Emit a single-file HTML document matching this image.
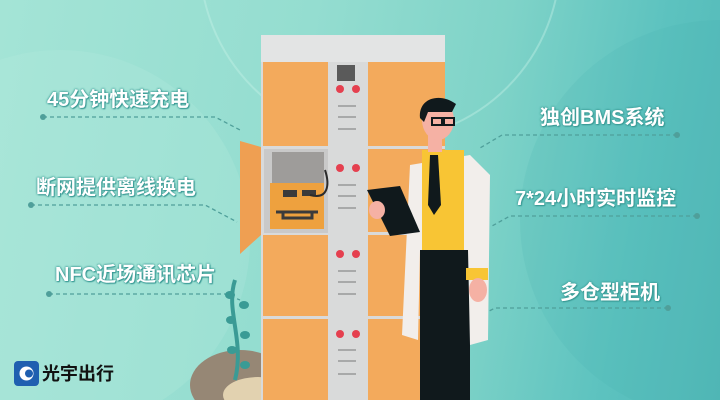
<!DOCTYPE html><html><head><meta charset="utf-8"><style>
html,body{margin:0;width:720px;height:400px;overflow:hidden}
#c{position:relative;width:720px;height:400px;overflow:hidden;background:linear-gradient(100deg,#a4e4d6 0%,#94ddd0 40%,#7fd3c8 65%,#5cc2bf 85%,#52b8b7 100%);font-family:"Liberation Sans","Noto Sans CJK SC",sans-serif}
.t{position:absolute;color:#fff;font-size:20px;line-height:24px;font-weight:bold;white-space:nowrap;text-shadow:0 0 2px #3a9a95,0 0 2px #3a9a95,1px 1px 1px #3a9a95}
</style></head><body><div id="c">
<svg width="720" height="400" style="position:absolute;left:0;top:0">
<circle cx="60" cy="240" r="190" fill="#b6ece0" opacity=".25"/>
<circle cx="380" cy="-40" r="180" fill="none" stroke="#c8f2e8" stroke-width="2" opacity=".4"/>
<circle cx="720" cy="220" r="200" fill="#45aeb0" opacity=".15"/>
<g stroke="#4f9f9a" stroke-width="1.3" stroke-dasharray="4 3" fill="none">
<path d="M43 117H215L242 131"/><path d="M31 205H205L237 222"/><path d="M49 294H225L240 300"/>
<path d="M677 135H502L480 148"/><path d="M697 216H510L492 226"/><path d="M668 308H495L468 322"/>
</g>
<g fill="#4f9f9a"><circle cx="43" cy="117" r="3"/><circle cx="31" cy="205" r="3"/><circle cx="49" cy="294" r="3"/><circle cx="677" cy="135" r="3"/><circle cx="697" cy="216" r="3"/><circle cx="668" cy="308" r="3"/></g>
<ellipse cx="240" cy="385" rx="50" ry="35" fill="#968775"/>
<ellipse cx="258" cy="395" rx="35" ry="18" fill="#e2d2b0"/>
<path d="M235 280C225 310 245 340 235 380" stroke="#3a9b95" stroke-width="4" fill="none"/>
<g fill="#3a9b95"><ellipse cx="230" cy="295" rx="5" ry="4"/><ellipse cx="244" cy="305" rx="5" ry="4"/><ellipse cx="231" cy="320" rx="5" ry="4"/><ellipse cx="245" cy="335" rx="5" ry="4"/><ellipse cx="232" cy="350" rx="5" ry="4"/><ellipse cx="245" cy="365" rx="5" ry="4"/></g>
<rect x="261" y="35" width="184" height="365" fill="#d9dada"/>
<rect x="261" y="35" width="184" height="27" fill="#e3e4e4"/>
<g fill="#f3aa5c"><rect x="263" y="62" width="65" height="84"/><rect x="368" y="62" width="77" height="84"/><rect x="368" y="149" width="77" height="83"/><rect x="263" y="235" width="65" height="81"/><rect x="368" y="235" width="77" height="81"/><rect x="263" y="319" width="65" height="81"/><rect x="368" y="319" width="77" height="81"/></g>
<rect x="264" y="149" width="64" height="84" fill="#c9c9c9"/><rect x="272" y="152" width="52" height="38" fill="#9e9c9a"/>
<polygon points="240,141 261,147 261,235 240,254" fill="#ef9f52"/>
<rect x="270" y="183" width="54" height="46" fill="#eea13e"/>
<rect x="283" y="190" width="14" height="7" fill="#3b3b3b"/><rect x="302" y="190" width="14" height="6" fill="#3b3b3b"/>
<path d="M276 212H318M283 212V218H312V212" stroke="#3b3b3b" stroke-width="3" fill="none"/>
<path d="M325 170C330 185 328 200 310 195" stroke="#2b2b2b" stroke-width="2" fill="none"/>
<rect x="337" y="65" width="18" height="16" fill="#5a5a5a"/>
<g fill="#e5404f"><circle cx="340" cy="89" r="4"/><circle cx="356" cy="89" r="4"/><circle cx="340" cy="168" r="4"/><circle cx="356" cy="168" r="4"/><circle cx="340" cy="254" r="4"/><circle cx="356" cy="254" r="4"/><circle cx="340" cy="334" r="4"/><circle cx="356" cy="334" r="4"/></g>
<g stroke="#8c8c8c" stroke-width="1.2"><path d="M338 106h18M338 117h18M338 129h18M338 185h18M338 196h18M338 208h18M338 271h18M338 282h18M338 294h18M338 350h18M338 361h18M338 374h18"/></g>
<rect x="420" y="250" width="50" height="150" fill="#10191c"/>
<path d="M410 165L470 155L490 175L488 340L470 345L468 250L420 250L418 340L402 335Z" fill="#f2eeeb"/>
<rect x="422" y="150" width="42" height="100" fill="#f8c534"/>
<polygon points="430,155 438,155 441,205 434,215 428,205" fill="#10191c"/>
<rect x="466" y="268" width="22" height="12" fill="#f8c534"/>
<ellipse cx="478" cy="290" rx="9" ry="12" fill="#f5b1a4"/>
<rect x="428" y="130" width="14" height="22" fill="#f5b1a4"/>
<ellipse cx="438" cy="120" rx="16" ry="20" fill="#f5b1a4"/>
<path d="M420 118C418 98 440 92 456 104L452 112L428 112L424 122Z" fill="#10191c"/>
<g stroke="#10191c" stroke-width="2" fill="none"><rect x="432" y="118" width="10" height="7"/><rect x="444" y="118" width="10" height="7"/></g>
<polygon points="367,190 400,186 420,232 390,236" fill="#10191c"/>
<ellipse cx="377" cy="210" rx="8" ry="9" fill="#f5b1a4"/>
<rect x="14" y="361" width="25" height="25" rx="4" fill="#1f5fb0"/>
<circle cx="26.5" cy="373.5" r="7" fill="#fff"/><circle cx="29" cy="373.5" r="4" fill="#1f5fb0"/>
</svg>
<div class="t" style="left:47px;top:88px">45分钟快速充电</div>
<div class="t" style="left:36px;top:176px">断网提供离线换电</div>
<div class="t" style="left:55px;top:263px">NFC近场通讯芯片</div>
<div class="t" style="left:540px;top:106px">独创BMS系统</div>
<div class="t" style="left:515px;top:187px">7*24小时实时监控</div>
<div class="t" style="left:560px;top:281px">多仓型柜机</div>
<div style="position:absolute;left:42px;top:362px;font-size:18px;line-height:24px;font-weight:bold;color:#111">光宇出行</div>
</div></body></html>
